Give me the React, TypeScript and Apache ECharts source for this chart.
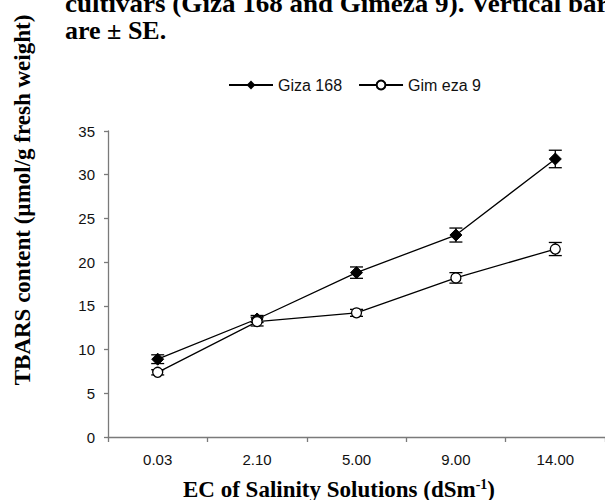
import React, { useEffect, useRef } from "react";
import * as echarts from "echarts";

const categories = ["0.03", "2.10", "5.00", "9.00", "14.00"];
const giza168 = [8.9, 13.5, 18.8, 23.1, 31.8];
const giza168SE = [0.5, 0.4, 0.65, 0.8, 1.0];
const gimeza9 = [7.4, 13.2, 14.2, 18.2, 21.5];
const gimeza9SE = [0.3, 0.5, 0.4, 0.6, 0.75];
const seriesNames = ["Giza 168", "Gim eza 9"];
const yTicks = { min: 0, max: 35, interval: 5 };

const titleLine1 = "cultivars (Giza 168 and Gimeza 9). Vertical bars";
const titleLine2 = "are ± SE.";
const yAxisTitle = "TBARS content (µmol/g fresh weight)";

function errData(vals: number[], se: number[]) {
  return vals.map((v, i) => [i, v - se[i], v + se[i]]);
}

function errorBarSeries(vals: number[], se: number[]) {
  return {
    type: "custom",
    z: 1,
    silent: true,
    data: errData(vals, se),
    encode: { x: 0, y: [1, 2] },
    renderItem: (params: any, api: any) => {
      const x = api.value(0);
      const lo = api.coord([x, api.value(1)]);
      const hi = api.coord([x, api.value(2)]);
      const w = 6.5;
      const style = { stroke: "#000", lineWidth: 1.3 };
      return {
        type: "group",
        children: [
          { type: "line", shape: { x1: lo[0], y1: lo[1], x2: hi[0], y2: hi[1] }, style },
          { type: "line", shape: { x1: lo[0] - w, y1: lo[1], x2: lo[0] + w, y2: lo[1] }, style },
          { type: "line", shape: { x1: hi[0] - w, y1: hi[1], x2: hi[0] + w, y2: hi[1] }, style },
        ],
      };
    },
  };
}

export default function App() {
  const ref = useRef<HTMLDivElement>(null);
  useEffect(() => {
    if (!ref.current) return;
    const chart = echarts.init(ref.current, undefined, { renderer: "svg" });
    const serif = "'Liberation Serif', 'Times New Roman', serif";
    const sans = "'Liberation Sans', Arial, sans-serif";
    chart.setOption({
      animation: false,
      backgroundColor: "#fff",
      grid: { left: 108, right: -13, top: 131, bottom: 63 },
      legend: {
        left: 228,
        top: 77,
        padding: 0,
        itemWidth: 44,
        itemHeight: 11,
        itemGap: 16,
        textStyle: { fontFamily: sans, fontSize: 16, color: "#111" },
        data: seriesNames,
      },
      xAxis: {
        type: "category",
        data: categories,
        boundaryGap: true,
        axisLine: { lineStyle: { color: "#7a7a7a", width: 1.3 } },
        axisTick: { show: true, length: 5, lineStyle: { color: "#7a7a7a", width: 1.3 } },
        axisLabel: { fontFamily: sans, fontSize: 15, color: "#111", margin: 15 },
        splitLine: { show: false },
      },
      yAxis: {
        type: "value",
        min: yTicks.min,
        max: yTicks.max,
        interval: yTicks.interval,
        axisLine: { show: true, lineStyle: { color: "#7a7a7a", width: 1.3 } },
        axisTick: { show: true, length: 4, lineStyle: { color: "#7a7a7a", width: 1.3 } },
        axisLabel: { fontFamily: sans, fontSize: 15, color: "#111", margin: 13 },
        splitLine: { show: false },
      },
      graphic: [
        {
          type: "text",
          x: 65,
          y: -9.5,
          scaleX: 1.04,
          style: {
            text: titleLine1,
            font: `bold 26px ${serif}`,
            fill: "#000",
            lineHeight: 26,
            verticalAlign: "top",
            textVerticalAlign: "top",
          },
        },
        {
          type: "text",
          x: 65,
          y: 17,
          style: {
            text: titleLine2,
            font: `bold 26px ${serif}`,
            fill: "#000",
            lineHeight: 26,
            verticalAlign: "top",
            textVerticalAlign: "top",
          },
        },
        {
          type: "text",
          x: 22,
          y: 200,
          rotation: Math.PI / 2,
          style: {
            text: yAxisTitle,
            font: `bold 23px ${serif}`,
            fill: "#000",
            align: "center",
            verticalAlign: "middle",
            textAlign: "center",
            textVerticalAlign: "middle",
          },
        },
        {
          type: "text",
          x: 339,
          y: 489,
          style: {
            text: "{m|EC of Salinity Solutions (dSm}{s|-1}{m|)}",
            fill: "#000",
            align: "center",
            verticalAlign: "middle",
            textAlign: "center",
            textVerticalAlign: "middle",
            rich: {
              m: { font: `bold 23px ${serif}`, fill: "#000", color: "#000" },
              s: { font: `bold 14px ${serif}`, fill: "#000", color: "#000", verticalAlign: "top", padding: [0, 0, 10, 0] },
            },
          },
        },
      ],
      series: [
        errorBarSeries(giza168, giza168SE),
        errorBarSeries(gimeza9, gimeza9SE),
        {
          name: seriesNames[0],
          type: "line",
          z: 3,
          data: giza168,
          symbol: "diamond",
          symbolSize: 12,
          lineStyle: { color: "#000", width: 1.3 },
          itemStyle: { color: "#000", borderColor: "#000" },
        },
        {
          name: seriesNames[1],
          type: "line",
          z: 3,
          data: gimeza9,
          symbol: "circle",
          symbolSize: 10,
          lineStyle: { color: "#000", width: 1.3 },
          itemStyle: { color: "#fff", borderColor: "#000", borderWidth: 1.3 },
        },
      ],
    });
    return () => chart.dispose();
  }, []);
  return (
    <div
      ref={ref}
      style={{ position: "fixed", left: 0, top: 0, width: 605, height: 500, background: "#fff" }}
    />
  );
}
